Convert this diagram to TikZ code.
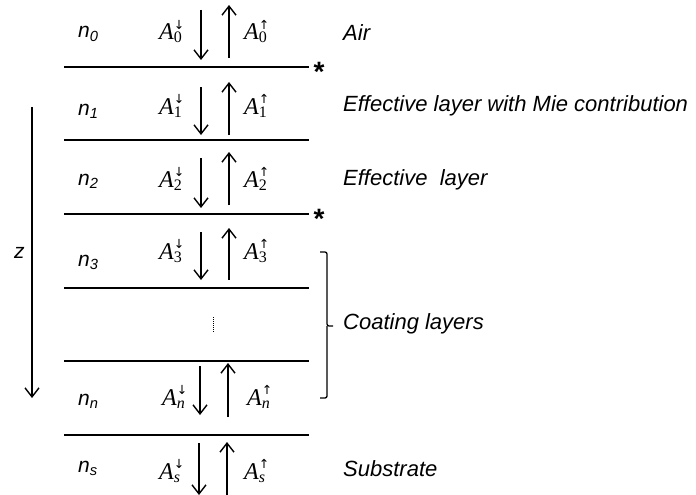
\documentclass[tikz,border=0pt]{standalone}
\usepackage{fontspec}
\setmainfont{Liberation Sans}
\newfontfamily\ampfont{Liberation Serif}
\newfontfamily\arrfont{DejaVu Sans}
\usetikzlibrary{arrows.meta}
\newcommand\AmpLbl[2]{{\ampfont\fontsize{24}{24}\selectfont\itshape A}\rlap{\raisebox{10.5pt}{\arrfont\fontsize{12.5}{12.5}\selectfont #1}}\raisebox{-3pt}{\ampfont\fontsize{16}{16}\selectfont #2}}
\begin{document}
\begin{tikzpicture}[x=1pt,y=-1pt,
  layerline/.style={line width=1.6pt},
  flow/.style={line width=1.4pt,-{Straight Barb[length=9pt,width=14pt,line width=1.4pt]}},
  lbl/.style={font=\fontsize{22}{24}\selectfont\itshape,anchor=west,inner sep=0pt},
  nlbl/.style={font=\fontsize{21}{24}\selectfont\itshape,anchor=base west,inner sep=0pt},
  amp/.style={anchor=base west,inner sep=0pt},
  star/.style={font=\fontsize{28}{28}\selectfont\bfseries,inner sep=0pt}]
\useasboundingbox (0,0) rectangle (696,495);
% interface lines
\foreach \y/\nm in {67/i0,140/i1,214/i2,288/i3,361/i4,435/i5}{
  \coordinate (\nm L) at (64,\y);
  \coordinate (\nm R) at (309,\y);
  \draw[layerline] (\nm L) -- (\nm R);
}
\node[star] (s0) at (319,72) {*};
\node[star] (s2) at (319,219) {*};
% arrows per layer
\foreach \nm/\ya/\yb/\xa in {r0/10/60/201, r1/87/135/201, r2/158/208/201, r3/232/280/201, rn/366/415/200, rs/443/495/199}{
  \coordinate (\nm dT) at (\xa,\ya);
  \coordinate (\nm dB) at (\xa,\yb);
  \draw[flow] (\nm dT) -- (\nm dB);
}
\foreach \nm/\ya/\yb/\xa in {r0/58/5/229, r1/135/82/229, r2/205/152/229, r3/280/228/229, rn/417/363/228, rs/495/442/227}{
  \coordinate (\nm uB) at (\xa,\ya);
  \coordinate (\nm uT) at (\xa,\yb);
  \draw[flow] (\nm uB) -- (\nm uT);
}
% refractive index labels
\node[nlbl] (n0) at (78,38) {n\textsubscript{0}};
\node[nlbl] (n1) at (78,115) {n\textsubscript{1}};
\node[nlbl] (n2) at (78,185) {n\textsubscript{2}};
\node[nlbl] (n3) at (78,266) {n\textsubscript{3}};
\node[nlbl] (nn) at (78,405) {n\textsubscript{n}};
\node[nlbl] (ns) at (78,472) {n\textsubscript{s}};
% amplitude labels
\node[amp] (a0d) at (159,40) {\AmpLbl{↓}{0}};
\node[amp] (a0u) at (244,40) {\AmpLbl{↑}{0}};
\node[amp] (a1d) at (159,114) {\AmpLbl{↓}{1}};
\node[amp] (a1u) at (244,114) {\AmpLbl{↑}{1}};
\node[amp] (a2d) at (159,187) {\AmpLbl{↓}{2}};
\node[amp] (a2u) at (244,187) {\AmpLbl{↑}{2}};
\node[amp] (a3d) at (159,259) {\AmpLbl{↓}{3}};
\node[amp] (a3u) at (244,259) {\AmpLbl{↑}{3}};
\node[amp] (and) at (162,405) {\AmpLbl{↓}{\itshape n}};
\node[amp] (anu) at (247,405) {\AmpLbl{↑}{\itshape n}};
\node[amp] (asd) at (159,479) {\AmpLbl{↓}{\itshape s}};
\node[amp] (asu) at (244,479) {\AmpLbl{↑}{\itshape s}};
% dotted ellipsis
\coordinate (dotT) at (213,317);
\coordinate (dotB) at (213,332);
\draw[line width=0.9pt,dash pattern=on 1pt off 1pt] (dotT) -- (dotB);
% z axis
\coordinate (zT) at (32,107);
\coordinate (zB) at (32,398);
\draw[flow] (zT) -- (zB);
\node[nlbl] (zl) at (14,258) {z};
% bracket
\coordinate (bT) at (320,252);
\coordinate (bB) at (320,398);
\draw[line width=1.3pt,rounded corners=2pt] (bT) -- (327,252) -- (327,326) -- (333,326);
\draw[line width=1.3pt,rounded corners=2pt] (bB) -- (327,398) -- (327,326);
% layer descriptions
\node[lbl] (air) at (343,33) {Air};
\node[lbl] (mie) at (343,106) {Effective layer with Mie contribution};
\node[lbl] (eff) at (343,180) {Effective\ \ layer};
\node[lbl] (coat) at (343,324) {Coating layers};
\node[lbl] (sub) at (343,469) {Substrate};
\end{tikzpicture}
\end{document}
